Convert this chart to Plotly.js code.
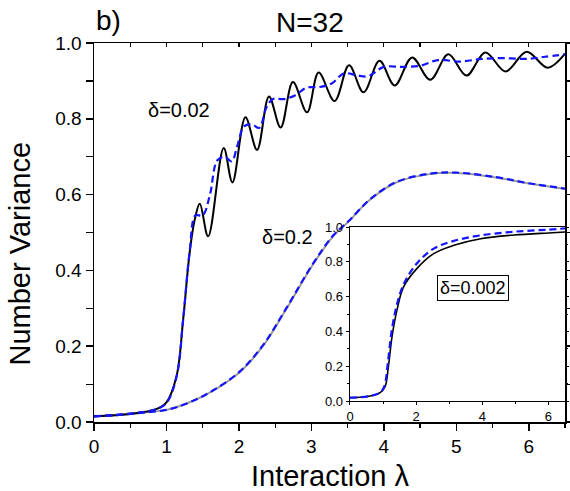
<!DOCTYPE html>
<html>
<head>
<meta charset="utf-8">
<script src="https://cdn.plot.ly/plotly-3.0.1.min.js"></script>
<style>html,body{margin:0;padding:0;background:#fff;}#chart{width:570px;height:491px;}</style>
</head>
<body>
<div id="chart"></div>
<script>
// delta = 0.02, exact (black solid)
const lam02Exact = [0, 0.3, 0.6, 0.86, 1.0, 1.14, 1.23, 1.32, 1.39, 1.46, 1.575, 1.79, 1.91, 2.09, 2.25, 2.415, 2.576, 2.745, 2.94, 3.10, 3.32, 3.52, 3.72, 3.94, 4.15, 4.39, 4.64, 4.89, 5.14, 5.40, 5.68, 5.97, 6.26, 6.5];
const var02Exact = [0.015, 0.018, 0.024, 0.034, 0.052, 0.122, 0.27, 0.447, 0.534, 0.576, 0.49, 0.723, 0.632, 0.804, 0.718, 0.859, 0.777, 0.897, 0.817, 0.922, 0.847, 0.941, 0.870, 0.953, 0.888, 0.962, 0.903, 0.970, 0.914, 0.975, 0.925, 0.977, 0.935, 0.972];
// delta = 0.02, approximation (blue dashed)
const lam02Approx = [0, 0.3, 0.6, 0.86, 1.0, 1.14, 1.23, 1.32, 1.40, 1.50, 1.60, 1.70, 1.80, 1.90, 1.98, 2.07, 2.18, 2.28, 2.38, 2.47, 2.62, 2.78, 2.93, 3.12, 3.28, 3.45, 3.62, 3.78, 4.0, 4.25, 4.5, 4.75, 5.05, 5.35, 5.65, 5.95, 6.2, 6.5];
const var02Approx = [0.015, 0.018, 0.024, 0.034, 0.05, 0.12, 0.27, 0.45, 0.545, 0.545, 0.60, 0.69, 0.70, 0.688, 0.73, 0.78, 0.785, 0.776, 0.83, 0.852, 0.852, 0.862, 0.882, 0.884, 0.893, 0.92, 0.915, 0.912, 0.937, 0.937, 0.94, 0.955, 0.951, 0.958, 0.96, 0.958, 0.963, 0.97];
// delta = 0.2 (grey solid and blue dashed)
const lam2 = [0, 0.5, 1.0, 1.32, 1.64, 2.01, 2.33, 2.65, 3.02, 3.30, 3.52, 3.80, 4.17, 4.63, 5.0, 5.55, 6.0, 6.5];
const var2Exact = [0.015, 0.022, 0.032, 0.052, 0.082, 0.131, 0.20, 0.297, 0.415, 0.49, 0.53, 0.585, 0.632, 0.654, 0.657, 0.645, 0.629, 0.615];
const var2Approx = [0.015, 0.022, 0.032, 0.052, 0.083, 0.133, 0.202, 0.299, 0.417, 0.492, 0.531, 0.586, 0.633, 0.655, 0.658, 0.646, 0.63, 0.616];
// inset: delta = 0.002
const lam002Exact = [0, 0.61, 0.91, 1.06, 1.16, 1.27, 1.42, 1.62, 2.02, 2.53, 3.14, 3.95, 4.96, 6.0, 6.5];
const var002Exact = [0.019, 0.029, 0.048, 0.082, 0.197, 0.369, 0.522, 0.656, 0.761, 0.847, 0.895, 0.933, 0.954, 0.966, 0.971];
const lam002Approx = [0, 0.61, 0.91, 1.04, 1.14, 1.25, 1.40, 1.62, 2.02, 2.53, 3.14, 3.95, 4.96, 6.0, 6.5];
const var002Approx = [0.019, 0.029, 0.048, 0.085, 0.21, 0.39, 0.54, 0.67, 0.79, 0.876, 0.92, 0.952, 0.973, 0.985, 0.992];

const BLUE = 'rgb(20,20,255)';
const FONT = 'Arial, "Liberation Sans", Helvetica, sans-serif';
const DASH = '7px,4px';

const traces = [
  {x: lam2, y: var2Exact, mode: 'lines', line: {color: '#999999', width: 2, shape: 'spline'}, xaxis: 'x', yaxis: 'y'},
  {x: lam2, y: var2Approx, mode: 'lines', line: {color: BLUE, width: 2.2, dash: DASH, shape: 'spline'}, xaxis: 'x', yaxis: 'y'},
  {x: lam02Exact, y: var02Exact, mode: 'lines', line: {color: '#000000', width: 2, shape: 'spline', smoothing: 1}, xaxis: 'x', yaxis: 'y'},
  {x: lam02Approx, y: var02Approx, mode: 'lines', line: {color: BLUE, width: 2.2, dash: DASH, shape: 'spline', smoothing: 1}, xaxis: 'x', yaxis: 'y'},
  {x: [], y: [], mode: 'lines', xaxis: 'x3', yaxis: 'y', hoverinfo: 'skip'},
  {x: lam002Exact, y: var002Exact, mode: 'lines', line: {color: '#000000', width: 1.6, shape: 'spline'}, xaxis: 'x2', yaxis: 'y2'},
  {x: lam002Approx, y: var002Approx, mode: 'lines', line: {color: BLUE, width: 2.2, dash: DASH, shape: 'spline'}, xaxis: 'x2', yaxis: 'y2'}
];

const layout = {
  width: 570, height: 491,
  margin: {l: 94, r: 5, t: 43, b: 69},
  paper_bgcolor: '#ffffff', plot_bgcolor: '#ffffff',
  showlegend: false,
  font: {family: FONT, color: '#000'},
  xaxis: {
    domain: [0, 1], range: [0, 6.5], anchor: 'y', dtick: 1, tick0: 0,
    ticks: 'outside', ticklen: 7, tickwidth: 1.5, tickcolor: '#000',
    minor: {dtick: 0.5, ticks: 'outside', ticklen: 4, tickwidth: 1.2, tickcolor: '#000'},
    showline: true, linecolor: '#000', linewidth: 1.5, mirror: true,
    showgrid: false, zeroline: false,
    tickfont: {size: 19, family: FONT}
  },
  xaxis3: {
    overlaying: 'x', side: 'top', anchor: 'y', range: [0, 6.5], dtick: 0.5, tick0: 0,
    ticks: 'inside', ticklen: 4, tickwidth: 1.2, tickcolor: '#000',
    showticklabels: false, showline: false, showgrid: false, zeroline: false
  },
  yaxis: {
    domain: [0, 1], range: [0, 1], anchor: 'x', dtick: 0.2, tick0: 0, tickformat: '.1f',
    ticks: 'outside', ticklen: 7, tickwidth: 1.5, tickcolor: '#000',
    minor: {dtick: 0.1, ticks: 'outside', ticklen: 4, tickwidth: 1.2, tickcolor: '#000'},
    showline: true, linecolor: '#000', linewidth: 1.5, mirror: 'allticks',
    showgrid: false, zeroline: false,
    tickfont: {size: 19, family: FONT}
  },
  xaxis2: {
    domain: [0.5435, 1], range: [0, 6.5], anchor: 'y2', dtick: 2, tick0: 0,
    ticks: 'outside', ticklen: 3, tickwidth: 1, tickcolor: '#000',
    minor: {dtick: 1, ticks: 'outside', ticklen: 2, tickcolor: '#000'},
    showline: true, linecolor: '#000', linewidth: 1.3, mirror: true,
    showgrid: false, zeroline: false,
    tickfont: {size: 13, family: FONT}
  },
  yaxis2: {
    domain: [0.0554, 0.5145], range: [0, 1], anchor: 'x2', dtick: 0.2, tick0: 0, tickformat: '.1f',
    ticks: 'outside', ticklen: 3, tickwidth: 1, tickcolor: '#000',
    minor: {dtick: 0.1, ticks: 'outside', ticklen: 2, tickcolor: '#000'},
    showline: true, linecolor: '#000', linewidth: 1.3, mirror: 'allticks',
    showgrid: false, zeroline: false,
    tickfont: {size: 13, family: FONT}
  },
  annotations: [
    {text: 'N=32', xref: 'paper', yref: 'paper', x: 0.459, y: 1.053, xanchor: 'center', yanchor: 'middle', showarrow: false, font: {size: 28, family: FONT}},
    {text: 'b)', xref: 'paper', yref: 'paper', x: 0.0, y: 1.06, xanchor: 'left', yanchor: 'middle', showarrow: false, font: {size: 28, family: FONT}},
    {text: 'Interaction λ', xref: 'paper', yref: 'paper', x: 0.5, y: -0.142, xanchor: 'center', yanchor: 'middle', showarrow: false, font: {size: 29, family: FONT}},
    {text: 'Number Variance', xref: 'paper', yref: 'paper', x: -0.155, y: 0.4446, xanchor: 'center', yanchor: 'middle', textangle: -90, showarrow: false, font: {size: 29, family: FONT}},
    {text: 'δ=0.02', xref: 'x', yref: 'y', x: 1.17, y: 0.823, xanchor: 'center', yanchor: 'middle', showarrow: false, font: {size: 20, family: FONT}},
    {text: 'δ=0.2', xref: 'x', yref: 'y', x: 2.67, y: 0.489, xanchor: 'center', yanchor: 'middle', showarrow: false, font: {size: 20, family: FONT}},
    {text: 'δ=0.002', xref: 'x2', yref: 'y2', x: 3.71, y: 0.649, xanchor: 'center', yanchor: 'middle', showarrow: false, font: {size: 18, family: FONT}, bordercolor: '#000', borderwidth: 1, borderpad: 2, bgcolor: '#fff'}
  ]
};

Plotly.newPlot('chart', traces, layout, {displayModeBar: false, staticPlot: true});
</script>
</body>
</html>
